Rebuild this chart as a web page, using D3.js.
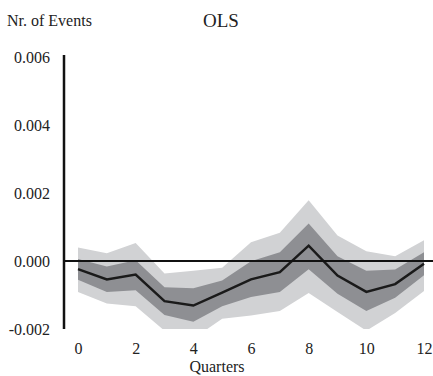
<!DOCTYPE html>
<html>
<head>
<meta charset="utf-8">
<script src="https://cdn.jsdelivr.net/npm/d3@7"></script>
<style>
  body { margin: 0; background: #fff; }
  text { font-family: "Liberation Serif", "Times New Roman", serif; fill: #222; }
</style>
</head>
<body>
<svg width="433" height="376"></svg>
<script>
// Data
var quarters = [0, 1, 2, 3, 4, 5, 6, 7, 8, 9, 10, 11, 12];
var estimate = [-0.00024, -0.00054, -0.00040, -0.00118, -0.00131, -0.00093, -0.00054, -0.00033, 0.00045, -0.00043, -0.00091, -0.00068, -0.00008];
var innerHigh = [0.00006, -0.00016, 0.00002, -0.00077, -0.00080, -0.00057, -0.00001, 0.00026, 0.00110, 0.00014, -0.00029, -0.00025, 0.00026];
var innerLow = [-0.00055, -0.00091, -0.00086, -0.00159, -0.00179, -0.00133, -0.00106, -0.00091, -0.00024, -0.00096, -0.00147, -0.00108, -0.00042];
var outerHigh = [0.00040, 0.00023, 0.00053, -0.00037, -0.00029, -0.00020, 0.00055, 0.00083, 0.00179, 0.00075, 0.00029, 0.00014, 0.00061];
var outerLow = [-0.00091, -0.00125, -0.00133, -0.00205, -0.00228, -0.00170, -0.00160, -0.00147, -0.00094, -0.00150, -0.00205, -0.00153, -0.00088];
var yTicks = [-0.002, 0.000, 0.002, 0.004, 0.006];
var xTicks = [0, 2, 4, 6, 8, 10, 12];

var svg = d3.select("svg");

var x = d3.scaleLinear().domain([0, 12]).range([78, 424]);
var y = d3.scaleLinear().domain([-0.002, 0.006]).range([329, 57]);

var rows = quarters.map(function (q, i) {
    return { q: q, est: estimate[i], iLo: innerLow[i], iHi: innerHigh[i], oLo: outerLow[i], oHi: outerHigh[i] };
});

// clip bands to the plot area
svg.append("clipPath").attr("id", "plot")
    .append("rect")
    .attr("x", 64).attr("y", y(0.006))
    .attr("width", 433 - 64).attr("height", y(-0.002) - y(0.006));

var g = svg.append("g").attr("clip-path", "url(#plot)");

var outer = d3.area().x(function (d) { return x(d.q); })
    .y0(function (d) { return y(d.oLo); })
    .y1(function (d) { return y(d.oHi); });
var inner = d3.area().x(function (d) { return x(d.q); })
    .y0(function (d) { return y(d.iLo); })
    .y1(function (d) { return y(d.iHi); });
var line = d3.line().x(function (d) { return x(d.q); })
    .y(function (d) { return y(d.est); });

g.append("path").datum(rows).attr("d", outer).attr("fill", "#d1d2d4");
g.append("path").datum(rows).attr("d", inner).attr("fill", "#8e8f93");

// zero line
svg.append("line")
    .attr("x1", 64).attr("x2", 433)
    .attr("y1", y(0)).attr("y2", y(0))
    .attr("stroke", "#111").attr("stroke-width", 2);

g.append("path").datum(rows).attr("d", line)
    .attr("fill", "none").attr("stroke", "#1a1a1a").attr("stroke-width", 2.5);

// y axis
var yAxis = svg.append("g").attr("transform", "translate(64,0)")
    .call(d3.axisLeft(y).tickValues(yTicks).tickSize(0).tickPadding(14)
        .tickFormat(d3.format(".3f")));
yAxis.select(".domain").attr("stroke", "#111").attr("stroke-width", 2.5)
    .attr("d", "M0," + (y(0.006) - 2) + "V" + y(-0.002));
yAxis.selectAll("text").style("font-size", "16px")
    .style("font-family", "'Liberation Serif', serif").attr("fill", "#222")
    .text(function (d) { return d < 0 ? "-" + d3.format(".3f")(-d) : d3.format(".3f")(d); });

// x axis
var xAxis = svg.append("g").attr("transform", "translate(0," + y(-0.002) + ")")
    .call(d3.axisBottom(x).tickValues(xTicks).tickSize(0).tickPadding(14));
xAxis.select(".domain").remove();
xAxis.selectAll("text").style("font-size", "16px")
    .style("font-family", "'Liberation Serif', serif").attr("fill", "#222");

svg.append("text").attr("x", 217).attr("y", 372)
    .attr("text-anchor", "middle").style("font-size", "16px").text("Quarters");

svg.append("text").attr("x", 7).attr("y", 26)
    .style("font-size", "16px").text("Nr. of Events");

svg.append("text").attr("x", 221).attr("y", 27)
    .attr("text-anchor", "middle").style("font-size", "19px").text("OLS");
</script>
</body>
</html>
